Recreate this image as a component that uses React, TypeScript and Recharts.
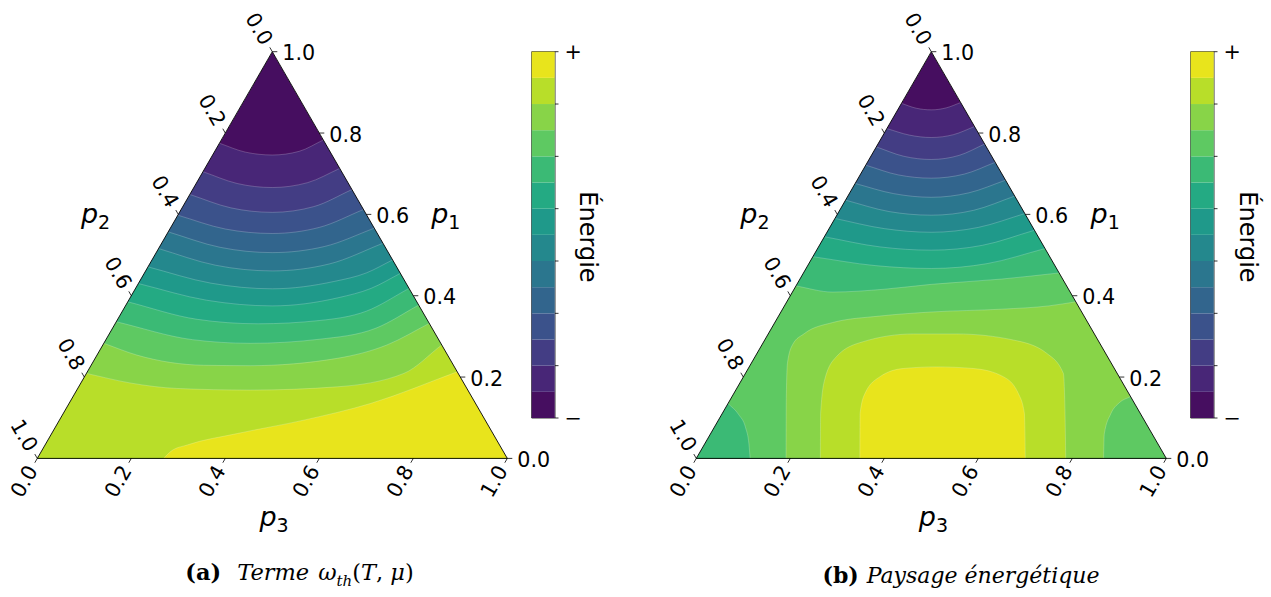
import React from "react";
import {
  ComposedChart,
  Area,
  Line,
  Scatter,
  XAxis,
  YAxis,
  BarChart,
  Bar,
  ReferenceArea,
} from "recharts";

// viridis, 14 filled levels (low -> high energy)
const levelColors = [
  "#460e60", "#482677", "#433d84", "#3b528b", "#32658d", "#2b768e", "#24888d",
  "#1f998a", "#24aa83", "#3bba75", "#5ec962", "#88d448", "#b8de29", "#e8e41c",
];

const tickValues = [0, 0.2, 0.4, 0.6, 0.8, 1.0];
const tickLabels = ["0.0", "0.2", "0.4", "0.6", "0.8", "1.0"];
const colorbarTicks = [0, 2, 4, 6, 8, 10, 12, 14];

// contour boundaries, [x, y] with x = p3 + p1/2 and y = p1
// boundary k separates level k-1 (above) from level k (below)
const termeContours: number[][][] = [
  [[0.3875, 0.775], [0.443, 0.753], [0.5, 0.746], [0.557, 0.755], [0.6085, 0.783]],
  [[0.3525, 0.705], [0.425, 0.676], [0.5, 0.666], [0.575, 0.678], [0.6435, 0.713]],
  [[0.3245, 0.649], [0.412, 0.616], [0.5, 0.605], [0.588, 0.619], [0.6695, 0.661]],
  [[0.299, 0.598], [0.4, 0.564], [0.5, 0.553], [0.6, 0.568], [0.694, 0.612]],
  [[0.2785, 0.557], [0.389, 0.519], [0.5, 0.506], [0.611, 0.521], [0.717, 0.566]],
  [[0.258, 0.516], [0.379, 0.475], [0.5, 0.461], [0.621, 0.478], [0.7355, 0.529]],
  [[0.2355, 0.471], [0.369, 0.431], [0.5, 0.417], [0.631, 0.435], [0.7, 0.456], [0.756, 0.488]],
  [[0.215, 0.43], [0.36, 0.389], [0.5, 0.375], [0.64, 0.395], [0.71, 0.418], [0.7725, 0.455]],
  [[0.1925, 0.385], [0.34, 0.342], [0.47, 0.331], [0.6, 0.339], [0.7, 0.362], [0.791, 0.418]],
  [[0.168, 0.336], [0.33, 0.292], [0.453, 0.283], [0.6, 0.293], [0.72, 0.32], [0.8115, 0.377]],
  [[0.1415, 0.283], [0.212, 0.254], [0.354, 0.229], [0.453, 0.228], [0.638, 0.246], [0.744, 0.279], [0.834, 0.332]],
  [[0.1045, 0.209], [0.2, 0.185], [0.297, 0.172], [0.453, 0.168], [0.638, 0.176], [0.78, 0.209], [0.8605, 0.279]],
  [[0.269, 0], [0.285, 0.018], [0.319, 0.033], [0.425, 0.061], [0.567, 0.094], [0.709, 0.135], [0.8935, 0.213]],
];

const paysageContours: number[][][] = [
  [[0.4365, 0.873], [0.468, 0.861], [0.5, 0.857], [0.532, 0.862], [0.5625, 0.875]],
  [[0.4055, 0.811], [0.453, 0.795], [0.5, 0.789], [0.547, 0.796], [0.592, 0.816]],
  [[0.383, 0.766], [0.441, 0.743], [0.5, 0.735], [0.559, 0.745], [0.6135, 0.773]],
  [[0.3605, 0.721], [0.43, 0.697], [0.5, 0.689], [0.57, 0.699], [0.636, 0.728]],
  [[0.338, 0.676], [0.42, 0.651], [0.5, 0.642], [0.58, 0.653], [0.658, 0.684]],
  [[0.3175, 0.635], [0.41, 0.607], [0.5, 0.598], [0.59, 0.61], [0.6775, 0.645]],
  [[0.295, 0.59], [0.4, 0.565], [0.5, 0.556], [0.6, 0.568], [0.699, 0.602]],
  [[0.2725, 0.545], [0.391, 0.52], [0.5, 0.512], [0.609, 0.524], [0.7195, 0.561]],
  [[0.248, 0.496], [0.381, 0.474], [0.5, 0.467], [0.619, 0.479], [0.742, 0.516]],
  [[0.212, 0.424], [0.29, 0.409], [0.4, 0.416], [0.5, 0.428], [0.65, 0.441], [0.772, 0.456]],
  [[0.191, 0], [0.1915, 0.15], [0.194, 0.235], [0.205, 0.28], [0.23, 0.307], [0.29, 0.334], [0.39, 0.35], [0.5, 0.36], [0.65, 0.367], [0.75, 0.375], [0.8075, 0.385]],
  [[0.264, 0], [0.2645, 0.11], [0.273, 0.193], [0.298, 0.25], [0.355, 0.287], [0.462, 0.306], [0.554, 0.306], [0.675, 0.291], [0.746, 0.258], [0.781, 0.209], [0.7845, 0.111], [0.786, 0]],
  [[0.348, 0], [0.3485, 0.111], [0.359, 0.16], [0.391, 0.201], [0.44, 0.221], [0.511, 0.225], [0.59, 0.221], [0.653, 0.201], [0.685, 0.16], [0.698, 0.111], [0.7, 0]],
];

// small corner pockets in (b): [level, boundary]
const paysagePatches: [number, number[][]][] = [
  [9, [[0.0675, 0.135], [0.09, 0.108], [0.105, 0.075], [0.112, 0.035], [0.1145, 0]]],
  [10, [[0.8665, 0], [0.868, 0.06], [0.882, 0.11], [0.9, 0.137], [0.924, 0.152]]],
];

const FONT = "DejaVu Sans";

// region under a boundary; where the boundary ends on a side edge it is carried
// a little past the edge (hidden by the mask) and closed down to the corner
const toArea = (pts: number[][]) => {
  const d = pts.map(([x, y]) => ({ x, y }));
  const n = pts.length;
  if (pts[0][1] > 0 && n > 1) {
    const [x0, y0] = pts[0];
    const [x1, y1] = pts[1];
    d.unshift({ x: x0 + (x0 - x1) * 0.5, y: y0 + (y0 - y1) * 0.5 });
    d.unshift({ x: 0, y: 0 });
  }
  if (pts[n - 1][1] > 0 && n > 1) {
    const [x0, y0] = pts[n - 1];
    const [x1, y1] = pts[n - 2];
    d.push({ x: x0 + (x0 - x1) * 0.5, y: y0 + (y0 - y1) * 0.5 });
    d.push({ x: 1, y: 0 });
  }
  return d;
};

const frame = [{ x: 0, y: 0 }, { x: 0.5, y: 1 }, { x: 1, y: 0 }];
const outline = [...frame, { x: 0, y: 0 }];
const maskLeft = [{ x: 0, r: [0, 1] }, { x: 0.5, r: [1, 1] }];
const maskRight = [{ x: 0.5, r: [1, 1] }, { x: 1, r: [0, 1] }];

const rightTicks = tickValues.map((v, i) => ({ x: 1 - v / 2, y: v, label: tickLabels[i] }));
const leftTicks = tickValues.map((v, i) => ({ x: (1 - v) / 2, y: 1 - v, label: tickLabels[i] }));
const bottomTicks = tickValues.map((v, i) => ({ x: v, y: 0, label: tickLabels[i] }));

const tickShape = (side: "right" | "left" | "bottom") => (props: any) => {
  const { cx, cy, payload } = props;
  const dir = side === "right" ? [1, 0] : side === "left" ? [-0.5, -0.866] : [-0.5, 0.866];
  const len = 5;
  const pad = 5;
  const tx = cx + dir[0] * (len + pad);
  const ty = cy + dir[1] * (len + pad) + (side === "right" ? 1.5 : 0);
  const rot = side === "right" ? 0 : side === "left" ? 60 : -60;
  return (
    <g>
      <line x1={cx} y1={cy} x2={cx + dir[0] * len} y2={cy + dir[1] * len} stroke="#000" strokeWidth={0.8} />
      <text
        x={tx}
        y={ty}
        textAnchor={side === "right" ? "start" : "end"}
        dominantBaseline="central"
        transform={`rotate(${rot} ${tx} ${ty})`}
        fontSize={20.7}
        fontFamily={FONT}
        fill="#000"
      >
        {payload.label}
      </text>
    </g>
  );
};

const seam = { stroke: "#ffffff", strokeOpacity: 0.3, strokeWidth: 0.7 };

const Ternary = ({ contours, patches }: { contours: number[][][]; patches: [number, number[][]][] }) => (
  <ComposedChart width={640} height={545} margin={{ top: 51.7, left: 37.3, right: 132.7, bottom: 86.6 }}>
    <XAxis type="number" dataKey="x" domain={[0, 1]} hide />
    <YAxis type="number" dataKey="y" domain={[0, 1]} hide />
    <Area data={frame} dataKey="y" type="linear" fill={levelColors[0]} fillOpacity={1} stroke="none" isAnimationActive={false} />
    {contours.map((c, i) => (
      <Area
        key={`c${i}`}
        data={toArea(c)}
        dataKey="y"
        type="monotone"
        fill={levelColors[i + 1]}
        fillOpacity={1}
        {...seam}
        dot={false}
        activeDot={false}
        isAnimationActive={false}
      />
    ))}
    {patches.map(([lvl, c], i) => (
      <Area
        key={`p${i}`}
        data={toArea(c)}
        dataKey="y"
        type="monotone"
        fill={levelColors[lvl]}
        fillOpacity={1}
        {...seam}
        dot={false}
        activeDot={false}
        isAnimationActive={false}
      />
    ))}
    <Area data={maskLeft} dataKey="r" type="linear" fill="#fff" fillOpacity={1} stroke="none" isAnimationActive={false} />
    <Area data={maskRight} dataKey="r" type="linear" fill="#fff" fillOpacity={1} stroke="none" isAnimationActive={false} />
    <Line data={outline} dataKey="y" type="linear" stroke="#000" strokeWidth={0.9} dot={false} activeDot={false} isAnimationActive={false} />
    <Scatter data={rightTicks} shape={tickShape("right")} isAnimationActive={false} />
    <Scatter data={leftTicks} shape={tickShape("left")} isAnimationActive={false} />
    <Scatter data={bottomTicks} shape={tickShape("bottom")} isAnimationActive={false} />
  </ComposedChart>
);

const colorbarRow = [Object.fromEntries([["name", "cb"], ...levelColors.map((_, i) => [`b${i}`, 1])])];

const Colorbar = () => (
  <BarChart width={100} height={470} data={colorbarRow} margin={{ top: 51.7, left: 11.7, right: 35, bottom: 52 }} barCategoryGap={0}>
    <XAxis dataKey="name" hide />
    <YAxis
      orientation="right"
      type="number"
      domain={[0, 14]}
      ticks={colorbarTicks}
      interval={0}
      width={30}
      axisLine={false}
      tickSize={3.5}
      tickMargin={6}
      tickLine={{ stroke: "#000", strokeWidth: 0.8 }}
      tick={{ fill: "#000", fontSize: 20.7, fontFamily: FONT }}
      tickFormatter={(v: number) => (v === 14 ? "+" : v === 0 ? "\u2212" : "")}
    />
    {levelColors.map((c, i) => (
      <Bar key={i} dataKey={`b${i}`} stackId="cb" fill={c} isAnimationActive={false} />
    ))}
    <ReferenceArea y1={0} y2={14} fill="none" stroke="#000" strokeWidth={0.8} ifOverflow="visible" />
  </BarChart>
);

const PLabel = ({ x, y, sub }: { x: number; y: number; sub: string }) => (
  <div
    style={{
      position: "absolute",
      left: x,
      top: y,
      transform: "translate(-50%, -50%)",
      fontFamily: FONT,
      fontSize: 27,
      lineHeight: 1,
      whiteSpace: "nowrap",
    }}
  >
    <span style={{ fontStyle: "italic" }}>p</span>
    <span style={{ fontSize: 19, position: "relative", top: 6 }}>{sub}</span>
  </div>
);

const EnergyLabel = ({ x, y }: { x: number; y: number }) => (
  <div
    style={{
      position: "absolute",
      left: x,
      top: y,
      transform: "translate(-50%, -50%) rotate(90deg)",
      fontFamily: FONT,
      fontSize: 24,
      lineHeight: 1,
      whiteSpace: "nowrap",
    }}
  >
    Énergie
  </div>
);

const captionStyle = (x: number, size: number): React.CSSProperties => ({
  position: "absolute",
  left: x,
  top: 575,
  transform: "translate(-50%, -50%)",
  fontFamily: "DejaVu Serif",
  fontSize: size,
  lineHeight: 1,
  whiteSpace: "nowrap",
});

export default function App() {
  return (
    <div style={{ position: "absolute", left: 0, top: 0, width: 1271, height: 597, background: "#fff", overflow: "hidden" }}>
      <div style={{ position: "absolute", left: 0, top: 0 }}>
        <Ternary contours={termeContours} patches={[]} />
      </div>
      <div style={{ position: "absolute", left: 659.4, top: 0 }}>
        <Ternary contours={paysageContours} patches={paysagePatches} />
      </div>
      <div style={{ position: "absolute", left: 520, top: 0 }}>
        <Colorbar />
      </div>
      <div style={{ position: "absolute", left: 1179, top: 0 }}>
        <Colorbar />
      </div>

      <PLabel x={95.5} y={213} sub="2" />
      <PLabel x={445.8} y={213} sub="1" />
      <PLabel x={274} y={516} sub="3" />
      <PLabel x={754.9} y={213} sub="2" />
      <PLabel x={1105.2} y={213} sub="1" />
      <PLabel x={933.4} y={516} sub="3" />

      <EnergyLabel x={588.3} y={236.7} />
      <EnergyLabel x={1247.7} y={236.7} />

      <div style={captionStyle(299.5, 22.5)}>
        <b>(a)</b>
        <span style={{ display: "inline-block", width: 16 }} />
        <i>Terme</i>
        <span style={{ display: "inline-block", width: 9 }} />
        <i>ω</i>
        <sub style={{ fontSize: 15 }}>
          <i>th</i>
        </sub>
        (<i>T</i>, <i>μ</i>)
      </div>
      <div style={captionStyle(961, 22)}>
        <b>(b)</b>
        <span style={{ display: "inline-block", width: 8 }} />
        <i>Paysage énergétique</i>
      </div>
    </div>
  );
}
